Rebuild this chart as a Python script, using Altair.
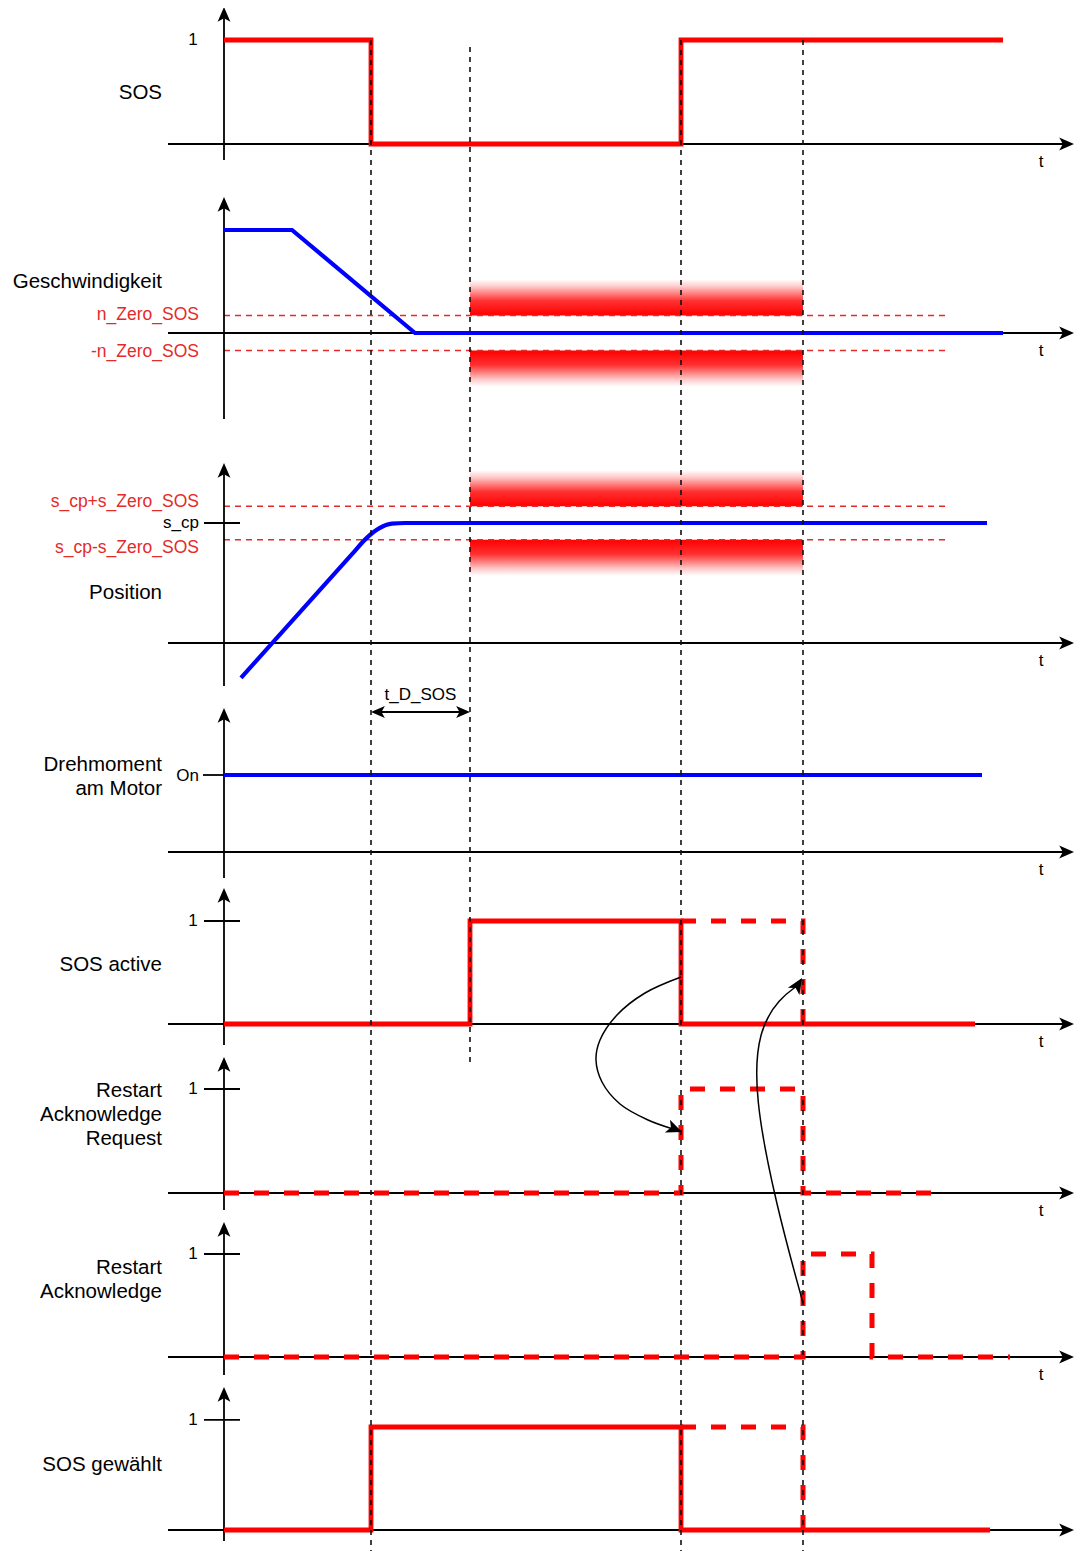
import math
import altair as alt
import pandas as pd

# ---------------- data ----------------
# common time axis (diagram units); event instants
T_START = 224
T_SOS_OFF = 371
T_ACTIVE = 470
T_RESTART = 681
T_ACK = 803
T_ACK_END = 872

# panel layout: baseline (t axis) of each signal, axis extents, size of level 1
panel_keys = ["sos", "speed", "pos", "torque", "active", "rar", "ra", "sel"]
panel_base = [144, 333, 643, 852, 1024, 1193, 1357, 1530]
panel_axis_top = [7, 197, 463, 708, 888, 1057, 1222, 1387]
panel_axis_bottom = [160, 419, 686, 878, 1045, 1210, 1375, 1541]
panel_unit = [104, 103, 120, 77, 103, 104, 103, 103]
panel_has_t = [True, True, True, True, True, True, True, False]

# signals: corner times and levels
sos_t = [T_START, T_SOS_OFF, T_SOS_OFF, T_RESTART, T_RESTART, 1003]
sos_v = [1, 1, 0, 0, 1, 1]

speed_t = [T_START, 292, 415, 1003]
speed_v = [1.0, 1.0, 0.0, 0.0]
n_zero = 0.17

pos_t = [241, 352, 366, 379, 392, 405, 987]
pos_v = [-0.29, 0.74, 0.87, 0.955, 0.995, 1.0, 1.0]
s_cp = 1.0
s_zero = 0.14

torque_t = [T_START, 982]
torque_v = [1, 1]

active_t = [T_START, T_ACTIVE, T_ACTIVE, T_RESTART, T_RESTART, 975]
active_v = [0, 0, 1, 1, 0, 0]
active_alt_t = [T_RESTART, T_ACK, T_ACK]
active_alt_v = [1, 1, 0]

rar_t = [T_START, T_RESTART, T_RESTART, T_ACK, T_ACK, 945]
rar_v = [0, 0, 1, 1, 0, 0]

ra_t = [T_START, T_ACK, T_ACK, T_ACK_END, T_ACK_END, 1010]
ra_v = [0, 0, 1, 1, 0, 0]

sel_t = [T_START, T_SOS_OFF, T_SOS_OFF, T_RESTART, T_RESTART, 990]
sel_v = [0, 0, 1, 1, 0, 0]
sel_alt_t = [T_RESTART, T_ACK, T_ACK]
sel_alt_v = [1, 1, 0]

THRESH_END = 945
BAND_SPEED = 0.35
BAND_POS = 0.30

# labels
panel_labels = [
    ("sos", ["SOS"], 93),
    ("speed", ["Geschwindigkeit"], 282),
    ("pos", ["Position"], 593),
    ("torque", ["Drehmoment", "am Motor"], 765),
    ("active", ["SOS active"], 965),
    ("rar", ["Restart", "Acknowledge", "Request"], 1091),
    ("ra", ["Restart", "Acknowledge"], 1268),
    ("sel", ["SOS gewählt"], 1465),
]
one_tick_panels = ["active", "rar", "ra", "sel"]
one_tick_level = {"sos": 1.0, "active": 1.0, "rar": 1.0, "ra": 1.0, "sel": 1.07}

# curved cause/effect arrows
curve1_x = [681, 645, 617, 600, 596, 602, 620, 648, 673]   # points on the curve
curve1_y = [977, 993, 1015, 1040, 1060, 1082, 1104, 1120, 1129]
curve2_x = [803, 776, 754, 758, 780, 797]                   # B-spline control points
curve2_y = [1303, 1205, 1095, 1030, 998, 986]


# ---------------- helpers ----------------
def P(key):
    return panel_keys.index(key)


def Yv(key, v):
    i = P(key)
    return panel_base[i] - v * panel_unit[i]


def sig(key, ts, vs, g):
    return pd.DataFrame({"x": ts, "y": [Yv(key, v) for v in vs],
                         "i": list(range(len(ts))), "g": g})


xs = alt.Scale(domain=[8, 1075], nice=False, zero=False)
ys = alt.Scale(domain=[8, 1551], nice=False, zero=False, reverse=True)


def X(f="x"):
    return alt.X(f"{f}:Q", scale=xs, axis=None)


def Y(f="y"):
    return alt.Y(f"{f}:Q", scale=ys, axis=None)


RED = "#ff0000"
LRED = "#e52a2a"
BLUE = "#0000ff"
FONT = "Liberation Sans"
ARROW = "M0,-1L0.8,0.85L0,0.4L-0.8,0.85Z"

layers = []

# gradient bands
band_rows = []
for key, th, h in [("speed", n_zero, BAND_SPEED), ("pos", s_zero, BAND_POS)]:
    c = 0.0 if key == "speed" else s_cp
    band_rows.append({"x": T_ACTIVE, "x2": T_ACK, "y": Yv(key, c + th + h), "y2": Yv(key, c + th), "k": "up"})
    band_rows.append({"x": T_ACTIVE, "x2": T_ACK, "y": Yv(key, c - th), "y2": Yv(key, c - th - h), "k": "down"})
bands = pd.DataFrame(band_rows)
grad_up = alt.Gradient(gradient="linear", x1=0, x2=0, y1=0, y2=1, stops=[
    alt.GradientStop(color="#ffffff", offset=0),
    alt.GradientStop(color="#ffc8c8", offset=0.2),
    alt.GradientStop(color="#ff3030", offset=0.6),
    alt.GradientStop(color="#ff0000", offset=1)])
grad_down = alt.Gradient(gradient="linear", x1=0, x2=0, y1=0, y2=1, stops=[
    alt.GradientStop(color="#ff0000", offset=0),
    alt.GradientStop(color="#ff3030", offset=0.4),
    alt.GradientStop(color="#ffc8c8", offset=0.8),
    alt.GradientStop(color="#ffffff", offset=1)])
layers.append(alt.Chart(bands[bands.k == "up"]).mark_rect(color=grad_up).encode(
    x=X(), x2="x2:Q", y=Y(), y2="y2:Q"))
layers.append(alt.Chart(bands[bands.k == "down"]).mark_rect(color=grad_down).encode(
    x=X(), x2="x2:Q", y=Y(), y2="y2:Q"))

# threshold lines
thr = pd.DataFrame([
    {"x": T_START, "x2": THRESH_END, "y": Yv("speed", n_zero)},
    {"x": T_START, "x2": THRESH_END, "y": Yv("speed", -n_zero)},
    {"x": T_START, "x2": THRESH_END, "y": Yv("pos", s_cp + s_zero)},
    {"x": T_START, "x2": THRESH_END, "y": Yv("pos", s_cp - s_zero)},
])
layers.append(alt.Chart(thr).mark_rule(color=LRED, strokeWidth=1.6, strokeDash=[6, 5]).encode(
    x=X(), x2="x2:Q", y=Y()))

# axes
hax = pd.DataFrame({"x": [168] * 8, "x2": [1064] * 8, "y": panel_base})
vax = pd.DataFrame({"x": [T_START] * 8, "y": [t + 8 for t in panel_axis_top], "y2": panel_axis_bottom})
layers.append(alt.Chart(hax).mark_rule(color="black", strokeWidth=1.8).encode(x=X(), x2="x2:Q", y=Y()))
layers.append(alt.Chart(vax).mark_rule(color="black", strokeWidth=1.8).encode(x=X(), y=Y(), y2="y2:Q"))

tick_rows = [{"x": 204, "x2": 240, "y": Yv(k, one_tick_level[k])} for k in one_tick_panels]
tick_rows.append({"x": 204, "x2": 240, "y": Yv("pos", s_cp)})
tick_rows.append({"x": 203, "x2": 224, "y": Yv("torque", 1)})
layers.append(alt.Chart(pd.DataFrame(tick_rows)).mark_rule(color="black", strokeWidth=1.8).encode(
    x=X(), x2="x2:Q", y=Y()))

# signals
solid_red = pd.concat([sig("sos", sos_t, sos_v, "a"), sig("active", active_t, active_v, "b"),
                       sig("sel", sel_t, sel_v, "c")])
dashed_red = pd.concat([sig("active", active_alt_t, active_alt_v, "a"), sig("rar", rar_t, rar_v, "b"),
                        sig("ra", ra_t, ra_v, "c"), sig("sel", sel_alt_t, sel_alt_v, "d")])
blue_lin = pd.concat([sig("speed", speed_t, speed_v, "a"), sig("torque", torque_t, torque_v, "b")])
blue_pos = sig("pos", pos_t, pos_v, "a")

layers.append(alt.Chart(dashed_red).mark_line(color=RED, strokeWidth=5, strokeDash=[15, 15],
                                              strokeCap="butt", strokeJoin="miter").encode(
    x=X(), y=Y(), detail="g:N", order="i:Q"))
layers.append(alt.Chart(solid_red).mark_line(color=RED, strokeWidth=4.8, strokeJoin="miter").encode(
    x=X(), y=Y(), detail="g:N", order="i:Q"))
layers.append(alt.Chart(blue_lin).mark_line(color=BLUE, strokeWidth=4.2, strokeJoin="miter").encode(
    x=X(), y=Y(), detail="g:N", order="i:Q"))
layers.append(alt.Chart(blue_pos).mark_line(color=BLUE, strokeWidth=4.2, interpolate="monotone").encode(
    x=X(), y=Y(), order="i:Q"))

# vertical dashed event markers
vmark = pd.DataFrame({"x": [T_SOS_OFF, T_ACTIVE, T_RESTART, T_ACK],
                      "y": [40, 47, 40, 40], "y2": [1555, 1062, 1559, 1559]})
layers.append(alt.Chart(vmark).mark_rule(color="#111111", strokeWidth=1.6, strokeDash=[5, 5]).encode(
    x=X(), y=Y(), y2="y2:Q"))

# t_D_SOS double arrow
tds = pd.DataFrame({"x": [T_SOS_OFF + 6], "x2": [T_ACTIVE - 6], "y": [712]})
layers.append(alt.Chart(tds).mark_rule(color="black", strokeWidth=1.8).encode(x=X(), x2="x2:Q", y=Y()))

# curved arrows
c1 = pd.DataFrame({"x": curve1_x, "y": curve1_y, "i": range(len(curve1_x))})
c2 = pd.DataFrame({"x": curve2_x, "y": curve2_y, "i": range(len(curve2_x))})
layers.append(alt.Chart(c1).mark_line(
    color="black", strokeWidth=1.5, interpolate="catmull-rom").encode(
    x=X(), y=Y(), order="i:Q"))
layers.append(alt.Chart(c2).mark_line(
    color="black", strokeWidth=1.5, interpolate="basis").encode(
    x=X(), y=Y(), order="i:Q"))

# arrow heads (tip position, direction angle clockwise from up, size in px)
heads = []
for i in range(8):
    heads.append((T_START, panel_axis_top[i], 0, 16))
    heads.append((1074, panel_base[i], 90, 16))
heads += [(T_SOS_OFF, 712, 270, 15), (T_ACTIVE, 712, 90, 15),
          (682, 1132, 112, 17), (802, 978, 32, 17)]
hrows = []
for tx, ty, a, s in heads:
    r = s / 2
    hrows.append({"x": tx - r * math.sin(math.radians(a)), "y": ty + r * math.cos(math.radians(a)),
                  "a": a, "s": s * s})
layers.append(alt.Chart(pd.DataFrame(hrows)).mark_point(shape=ARROW, filled=True, color="black",
                                                        opacity=1, strokeWidth=0).encode(
    x=X(), y=Y(), angle=alt.Angle("a:Q", scale=None), size=alt.Size("s:Q", scale=None)))

# texts
big = []
for key, lines, y0 in panel_labels:
    for j, t in enumerate(lines):
        big.append({"x": 162, "y": y0 + 24 * j, "t": t})
layers.append(alt.Chart(pd.DataFrame(big)).mark_text(
    align="right", baseline="middle", font=FONT, fontSize=20.5, color="black").encode(
    x=X(), y=Y(), text="t:N"))

red_lbl = pd.DataFrame([
    {"x": 199, "y": Yv("speed", n_zero), "t": "n_Zero_SOS"},
    {"x": 199, "y": Yv("speed", -n_zero) + 1, "t": "-n_Zero_SOS"},
    {"x": 199, "y": Yv("pos", s_cp + s_zero) - 4, "t": "s_cp+s_Zero_SOS"},
    {"x": 199, "y": Yv("pos", s_cp - s_zero) + 8, "t": "s_cp-s_Zero_SOS"},
])
layers.append(alt.Chart(red_lbl).mark_text(
    align="right", baseline="middle", font=FONT, fontSize=17.5, color=LRED).encode(
    x=X(), y=Y(), text="t:N"))

small = pd.DataFrame([
    {"x": 199, "y": Yv("pos", s_cp), "t": "s_cp"},
    {"x": 199, "y": Yv("torque", 1) + 1, "t": "On"},
])
layers.append(alt.Chart(small).mark_text(
    align="right", baseline="middle", font=FONT, fontSize=17, color="black").encode(
    x=X(), y=Y(), text="t:N"))

ctr = [{"x": 193, "y": Yv(k, one_tick_level[k]), "t": "1"} for k in ["sos"] + one_tick_panels]
for i in range(8):
    if panel_has_t[i]:
        ctr.append({"x": 1041, "y": panel_base[i] + 18, "t": "t"})
ctr.append({"x": (T_SOS_OFF + T_ACTIVE) / 2, "y": 695, "t": "t_D_SOS"})
layers.append(alt.Chart(pd.DataFrame(ctr)).mark_text(
    align="center", baseline="middle", font=FONT, fontSize=17, color="black").encode(
    x=X(), y=Y(), text="t:N"))

chart = alt.layer(*layers).properties(
    width=1067, height=1543,
    autosize=alt.AutoSizeParams(type="none"),
    padding=0,
).configure_view(stroke=None)

chart.save("out.html", embed_options={"renderer": "svg", "actions": False})
